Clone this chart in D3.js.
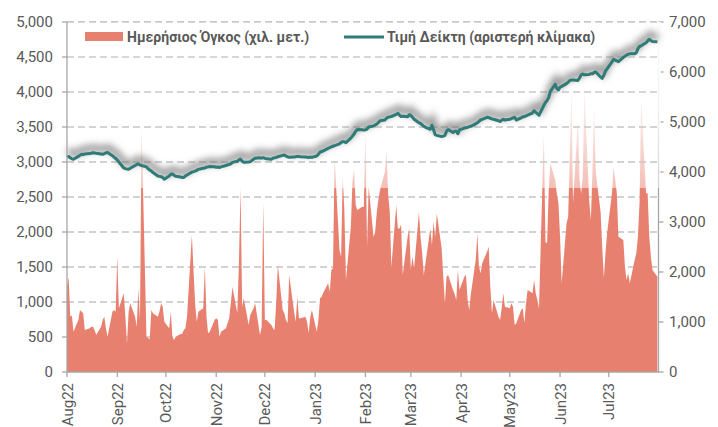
<!DOCTYPE html>
<html><head><meta charset="utf-8">
<script src="https://cdn.jsdelivr.net/npm/d3@7"></script>
<style>body{margin:0;background:#fff} svg{display:block} text{font-family:Roboto,"Noto Sans",sans-serif}</style>
</head><body><svg id="c" width="718" height="427"></svg>
<script>
// Index value (left scale), one per trading day (weekday) Aug 2022 – Jul 2023
const indexValues = [
  // Aug22
  3070,3080,3060,3045,3040, 3080,3095,3110,3105,3115, 3120,3125,3133,3130,3125, 3115,3110,3120,3130,3135, 3090,3070,3050,
  // Sep22
  3030,3000, 2915,2905,2900,2898,2910, 2950,2965,2972,2960,2950, 2930,2905,2886,2870,2850, 2800,2795,2790,2780,2755,
  // Oct22
  2800,2825,2828,2810,2795, 2785,2778,2780,2800,2815, 2855,2862,2870,2880,2895, 2910,2915,2925,2930,2935, 2932,
  // Nov22
  2925,2928,2922,2930, 2950,2960,2965,2975,2995, 3010,3030,3040,3010,2995, 3000,3005,3020,3040,3055, 3060,3055,3062,
  // Dec22
  3052,3045, 3040,3055,3060,3065,3075, 3095,3100,3085,3075,3068, 3070,3075,3080,3078,3075, 3070,3068,3065,3070,3066,
  // Jan23
  3085,3110,3140,3150,3160, 3195,3205,3215,3225,3235, 3260,3280,3290,3290,3276, 3340,3370,3400,3440,3465, 3462,3455,
  // Feb23
  3460,3470,3500, 3515,3530,3540,3565,3590, 3600,3625,3640,3645,3650, 3680,3695,3670,3650,3655, 3645,3675,
  // Mar23
  3665,3640,3610, 3560,3550,3530,3510,3495, 3468,3525,3460,3390,3380, 3362,3370,3380,3440,3465, 3420,3440,3440,3405,3460,
  // Apr23
  3485,3490,3495,3505,3510, 3545,3560,3580,3600,3610, 3638,3635,3625,3615,3610, 3590,3578,3595,3610,3600,
  // May23
  3610,3620,3630,3638,3600, 3630,3645,3648,3660,3670, 3700,3733,3710,3690,3667, 3810,3850,3880,3920,4010, 4110,4050,4030,
  // Jun23
  4070,4080, 4120,4140,4165,4170,4170, 4165,4200,4245,4257,4245, 4250,4262,4260,4280,4285, 4215,4195,4240,4300,4330,
  // Jul23
  4430,4467,4455,4445,4433, 4495,4510,4525,4540,4545, 4545,4560,4620,4650,4660, 4705,4730,4752,4735,4722, 4718
];
// Daily volume, thousand shares (right scale)
const volumeValues = [
  // Aug22
  1700,1900,1107,1133,807, 1040,1240,1207,1173,840, 873,907,907,840,740, 907,1040,1107,873,707, 1207,1240,1207,
  // Sep22
  2307,1273, 1573,1107,573,1207,1373, 1107,907,1653,1040,4900, 707,680,653,1240,1173, 1107,1207,1373,1307,1007,
  // Oct22
  873,1200,707,640,707, 760,760,840,873,1107, 2740,2040,1373,1007,1207, 1273,2107,1107,773,807, 1040,
  // Nov22
  1073,1040,707,807, 873,973,1073,1373,1707, 1173,2173,3680,1307,1473, 940,1140,1207,1273,1373, 740,900,3380,
  // Dec22
  1040,1040, 940,873,840,1400,2140, 1240,1173,1040,973,1940, 1207,1007,1507,1073,1073, 1107,1007,773,1100,1240,
  // Jan23
  807,1040,1473,1507,1587, 1773,1607,2040,2073,4280, 2440,2307,3900,3240,1840, 2907,3800,4040,3340,3240, 3307,3300,
  // Feb23
  4773,2507,3707, 2700,2800,3200,3450,3640, 4000,4407,3560,3200,2100, 3340,2870,2870,2950,1940, 2700,2870,
  // Mar23
  2040,2307,2073, 3200,2700,2373,1940,2173, 2870,2540,3007,2700,3170, 2473,1907,1373,1907,1940, 1640,1560,1440,2040,1640,
  // Apr23
  1907,1940,1440,1240,1560, 2240,2773,2107,1973,2173, 2407,2507,1707,1173,1440, 1107,1040,1273,1573,1307,
  // May23
  1273,1373,1307,940,973, 1240,1273,973,1373,1640, 1573,1840,1573,1440,1273, 4770,2600,2573,3640,4173, 3840,3570,3373,
  // Jun23
  2707,1773, 2973,3107,4300,5700,3373, 5040,3840,3570,3907,5640, 3400,3040,4040,5300,4000, 3200,2500,1880,2373,2773,
  // Jul23
  3573,4107,3840,3573,2707, 2640,2107,1840,1973,1773, 2240,2373,2707,3373,5440, 3573,3573,2707,2307,2040, 1907
];
const leftTicks = [0,500,1000,1500,2000,2500,3000,3500,4000,4500,5000];
const rightTicks = [0,1000,2000,3000,4000,5000,6000,7000];
const seriesNames = ["Ημερήσιος Όγκος (χιλ. μετ.)", "Τιμή Δείκτη (αριστερή κλίμακα)"];

// trading-day dates (weekdays)
const dates = [];
for (let d = new Date(2022,7,1); d <= new Date(2023,6,31); d.setDate(d.getDate()+1)) {
  const w = d.getDay(); if (w !== 0 && w !== 6) dates.push(new Date(d));
}
const data = dates.map((d,i) => ({date:d, idx:indexValues[i], vol:volumeValues[i]})).filter(d => d.idx != null);

const X0=67, X1=659, Y0=22, Y1=372, CUT=188;
const AREA="#E8806F", LINE="#2E7B78", TXT="#595959", AX="#a6a6a6";
const svg = d3.select("#c");
const x = d3.scaleTime().domain([new Date(2022,7,1), new Date(2023,7,1)]).range([X0,X1]);
const yL = d3.scaleLinear().domain([0,5000]).range([Y1,Y0]);
const yR = d3.scaleLinear().domain([0,7000]).range([Y1,Y0]);

const defs = svg.append("defs");
const g1 = defs.append("linearGradient").attr("id","fade").attr("x1",0).attr("y1",0).attr("x2",0).attr("y2",1);
g1.append("stop").attr("offset",0).attr("stop-color","#fff").attr("stop-opacity",0.97);
g1.append("stop").attr("offset",0.55).attr("stop-color","#fff").attr("stop-opacity",0.82);
g1.append("stop").attr("offset",1).attr("stop-color","#fff").attr("stop-opacity",0.5);
defs.append("filter").attr("id","blur").attr("x","-10%").attr("y","-50%").attr("width","120%").attr("height","200%")
  .append("feGaussianBlur").attr("stdDeviation",3.5);
defs.append("clipPath").attr("id","topclip").append("rect").attr("x",X0).attr("y",Y0-2).attr("width",X1-X0).attr("height",CUT-Y0+2);

// gridlines
const grid = (sel) => sel.selectAll("line").data(leftTicks.filter(t=>t>0)).join("line")
  .attr("x1",X0).attr("x2",X1-1).attr("y1",d=>yL(d)).attr("y2",d=>yL(d))
  .attr("stroke","#c4c4c4").attr("stroke-width",1.4).attr("stroke-dasharray","7 4");
svg.append("g").call(grid);

// area
svg.append("path").datum(data)
  .attr("d", d3.area().x(d=>x(d.date)).y0(Y1).y1(d=>yR(d.vol)))
  .attr("fill", AREA);

// right axis
const rAx = svg.append("g");
rAx.append("line").attr("x1",X1-0.5).attr("x2",X1-0.5).attr("y1",Y0).attr("y2",Y1).attr("stroke",AX).attr("stroke-width",1.3);
rAx.selectAll("line.t").data(rightTicks).join("line").attr("class","t")
  .attr("x1",X1-0.5).attr("x2",X1+4.5).attr("y1",d=>yR(d)).attr("y2",d=>yR(d)).attr("stroke",AX).attr("stroke-width",1.3);

// fading overlay on upper part
svg.append("rect").attr("x",X0+1).attr("y",Y0).attr("width",X1-X0+1).attr("height",CUT-Y0).attr("fill","url(#fade)");
svg.append("g").attr("clip-path","url(#topclip)").attr("opacity",0.85).call(grid);

rAx.selectAll("text").data(rightTicks).join("text")
  .attr("x",669).attr("y",d=>yR(d)).attr("dy","0.36em").attr("fill",TXT).attr("font-size",15)
  .text(d=>d3.format(",")(d));

// line shadow + line
const line = d3.line().x(d=>x(d.date)).y(d=>yL(d.idx));
svg.append("path").datum(data).attr("d",line).attr("fill","none")
  .attr("stroke","#6e6e6e").attr("stroke-opacity",0.7).attr("stroke-width",7)
  .attr("transform","translate(1,-5)").attr("filter","url(#blur)");
svg.append("path").datum(data).attr("d",line).attr("fill","none")
  .attr("stroke",LINE).attr("stroke-width",3).attr("stroke-linejoin","round");

// left axis
const lAx = svg.append("g");
lAx.append("line").attr("x1",X0).attr("x2",X0).attr("y1",Y0).attr("y2",Y1).attr("stroke",AX).attr("stroke-width",1.3);
lAx.selectAll("line.t").data(leftTicks).join("line").attr("class","t")
  .attr("x1",X0-5).attr("x2",X0).attr("y1",d=>yL(d)).attr("y2",d=>yL(d)).attr("stroke",AX).attr("stroke-width",1.3);
lAx.selectAll("text").data(leftTicks).join("text")
  .attr("x",53).attr("y",d=>yL(d)).attr("dy","0.36em").attr("text-anchor","end")
  .attr("fill",TXT).attr("font-size",15).text(d=>d3.format(",")(d));

// bottom axis
const months = d3.timeMonth.range(new Date(2022,7,1), new Date(2023,7,1));
const bAx = svg.append("g");
bAx.append("line").attr("x1",X0).attr("x2",X1).attr("y1",Y1).attr("y2",Y1).attr("stroke",AX).attr("stroke-width",1.3);
bAx.selectAll("line.t").data(months).join("line").attr("class","t")
  .attr("x1",d=>x(d)).attr("x2",d=>x(d)).attr("y1",Y1).attr("y2",Y1+5).attr("stroke",AX).attr("stroke-width",1.3);
bAx.selectAll("text").data(months).join("text")
  .attr("transform",d=>`translate(${x(d)+5.5},383) rotate(-90)`)
  .attr("text-anchor","end").attr("fill",TXT).attr("font-size",15)
  .text(d=>d3.timeFormat("%b%y")(d));

// legend
const lg = svg.append("g");
lg.append("rect").attr("x",85).attr("y",32).attr("width",38).attr("height",9).attr("fill",AREA);
lg.append("text").attr("x",127).attr("y",41.5).attr("font-size",14).attr("font-weight","bold").attr("fill",TXT).text(seriesNames[0]);
lg.append("line").attr("x1",344).attr("x2",384).attr("y1",37).attr("y2",37).attr("stroke",LINE).attr("stroke-width",3);
lg.append("text").attr("x",387).attr("y",41.5).attr("font-size",14).attr("font-weight","bold").attr("fill",TXT).text(seriesNames[1]);
</script></body></html>
